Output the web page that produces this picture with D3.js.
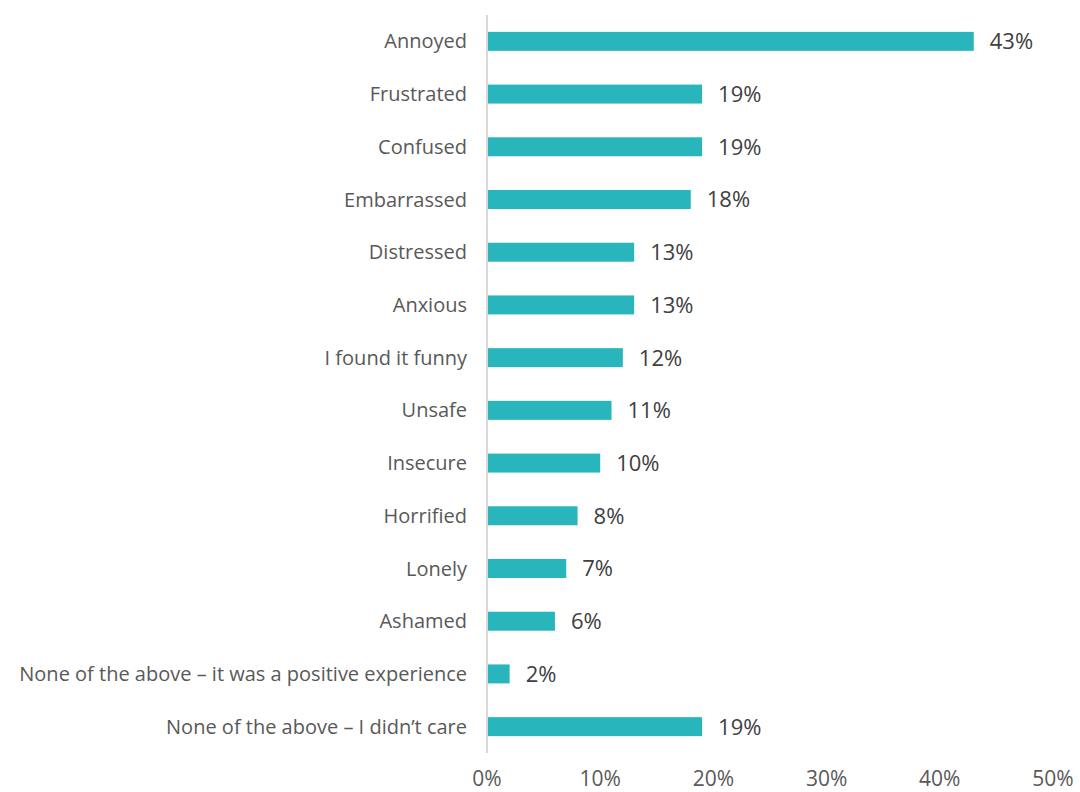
<!DOCTYPE html>
<html>
<head>
<meta charset="utf-8">
<script src="https://cdn.jsdelivr.net/npm/d3@7"></script>
<style>
	body { margin: 0; background: #fff; }
	svg text { font-family: "Open Sans", Lato, sans-serif; }
</style>
</head>
<body>
<svg id="chart" width="1080" height="792"></svg>
<script>
const categories = [
	"Annoyed", "Frustrated", "Confused", "Embarrassed", "Distressed", "Anxious",
	"I found it funny", "Unsafe", "Insecure", "Horrified", "Lonely", "Ashamed",
	"None of the above \u2013 it was a positive experience",
	"None of the above \u2013 I didn\u2019t care"
];
const values = [43, 19, 19, 18, 13, 13, 12, 11, 10, 8, 7, 6, 2, 19];
const tickValues = [0, 10, 20, 30, 40, 50];

const svg = d3.select("#chart");
const left = 487, right = 1053;

let x = d3.scaleLinear().domain([0, 50]).range([left, right]);
let y = d3.scaleBand().domain(categories).range([15, 753]).paddingInner(0.64).paddingOuter(0.32);

// axis line
svg.append("line")
	.attr("x1", left).attr("x2", left)
	.attr("y1", 15).attr("y2", 753)
	.attr("stroke", "#d9d9d9").attr("stroke-width", 2);

svg.selectAll("rect.bar")
	.data(values)
	.enter().append("rect")
	.attr("class", "bar")
	.attr("x", x(0) + 1)
	.attr("y", (d, i) => y(categories[i]))
	.attr("width", d => x(d) - x(0) - 1)
	.attr("height", y.bandwidth())
	.attr("fill", "#29b5bc");

svg.selectAll("text.cat")
	.data(categories)
	.enter().append("text")
	.attr("class", "cat")
	.attr("x", left - 20)
	.attr("y", d => y(d) + y.bandwidth() / 2)
	.attr("dy", "0.35em")
	.attr("text-anchor", "end")
	.attr("font-size", 20)
	.attr("fill", "#595959")
	.text(d => d);

svg.selectAll("text.val")
	.data(values)
	.enter().append("text")
	.attr("class", "val")
	.attr("x", d => x(d) + 16)
	.attr("y", (d, i) => y(categories[i]) + y.bandwidth() / 2)
	.attr("dy", "0.36em")
	.attr("font-size", 22)
	.attr("fill", "#404040")
	.text(d => d + "%");

svg.selectAll("text.tick")
	.data(tickValues)
	.enter().append("text")
	.attr("class", "tick")
	.attr("x", d => x(d))
	.attr("y", 786)
	.attr("text-anchor", "middle")
	.attr("font-size", 21)
	.attr("fill", "#595959")
	.text(d => d + "%");
</script>
</body>
</html>
